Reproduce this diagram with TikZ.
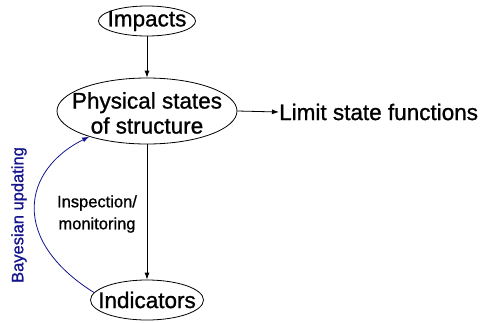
\documentclass[tikz,border=0pt]{standalone}
\usepackage{fontspec}
\setmainfont{Liberation Sans}[FakeBold=1]
\usetikzlibrary{shapes.geometric,arrows.meta}
\begin{document}
\begin{tikzpicture}[x=1pt,y=-1pt,
  ell/.style={draw,ellipse,inner sep=0pt,line width=0.8pt},
  txt/.style={inner sep=0pt,align=center,font=\fontsize{22.5}{25}\selectfont},
  arr/.style={-{Latex[length=7pt,width=5pt]},line width=0.8pt},
  lbl/.style={font=\fontsize{16.5}{22}\selectfont,align=center}]
\useasboundingbox (0,0) rectangle (480,322);
\node[ell,minimum width=97pt,minimum height=30pt] (imp) at (147,21) {};
\node[txt] (impt) at (imp) {Impacts};
\node[ell,minimum width=180pt,minimum height=66pt] (phys) at (147,111) {};
\node[txt] (physt) at (147,113) {Physical states\\of structure};
\node[ell,minimum width=113pt,minimum height=40pt] (ind) at (147,300) {};
\node[txt] (indt) at (ind) {Indicators};
\node[anchor=west,txt] (lsf) at (279,112) {Limit state functions};
\draw[arr] (imp) -- (phys);
\draw[arr] (phys) -- (ind);
\draw[arr] (phys.east) -- (lsf.west);
\node[lbl] (insp) at (97,214) {Inspection/\\monitoring};
\draw[arr,draw={rgb,255:red,20;green,20;blue,140}] (ind.172) .. controls (10,240) and (22,170) .. (phys.-156);
\node[lbl,rotate=90,text={rgb,255:red,20;green,20;blue,140}] (bay) at (19,215) {Bayesian updating};
\end{tikzpicture}
\end{document}
